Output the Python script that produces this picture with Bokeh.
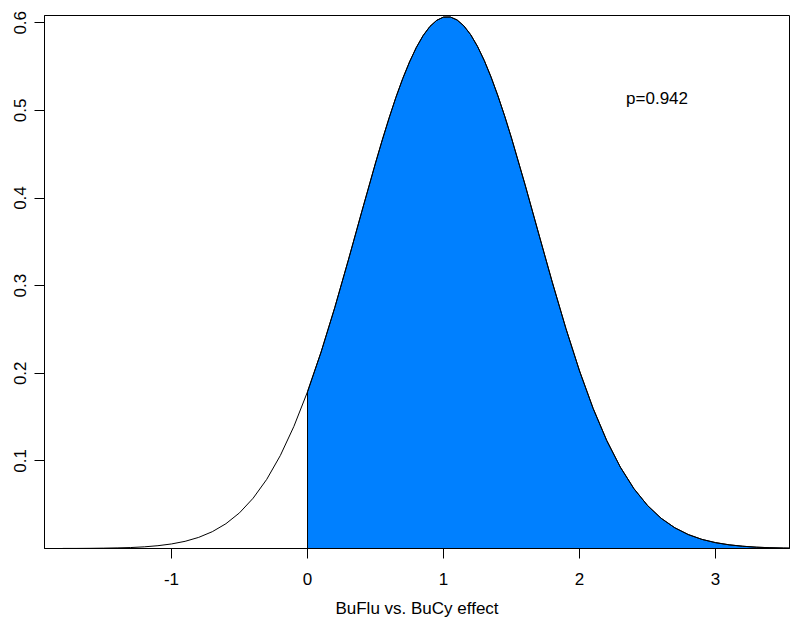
from bokeh.plotting import figure
from bokeh.models import FixedTicker, Range1d, Label
from bokeh.embed import file_html
from bokeh.resources import INLINE

# effect values (x) and their posterior density
effect = [-1.8, -1.7, -1.6, -1.5, -1.4, -1.3, -1.2, -1.1, -1.0, -0.9,
          -0.8, -0.7, -0.6, -0.5, -0.4, -0.3, -0.2, -0.1, 0.0, 0.1,
          0.2, 0.3, 0.4, 0.5, 0.55, 0.6, 0.65, 0.7, 0.75, 0.8,
          0.85, 0.9, 0.95, 1.0, 1.05, 1.1, 1.15, 1.2, 1.25, 1.3,
          1.35, 1.4, 1.45, 1.5, 1.6, 1.7, 1.8, 1.9, 2.0, 2.1,
          2.2, 2.3, 2.4, 2.5, 2.6, 2.7, 2.8, 2.9, 3.0, 3.1,
          3.2, 3.3, 3.4, 3.5, 3.6]
density = [0.0001, 0.0001, 0.0002, 0.0004, 0.0007, 0.0011, 0.0019, 0.0032, 0.0052, 0.0082,
           0.0127, 0.0192, 0.0283, 0.0407, 0.0574, 0.0789, 0.1061, 0.1394, 0.1789, 0.2243,
           0.2748, 0.3291, 0.3850, 0.4400, 0.4664, 0.4914, 0.5149, 0.5363, 0.5553, 0.5718,
           0.5854, 0.5958, 0.6028, 0.6065, 0.6066, 0.6032, 0.5964, 0.5863, 0.5730, 0.5568,
           0.5379, 0.5166, 0.4934, 0.4684, 0.4150, 0.3592, 0.3038, 0.2511, 0.2027, 0.1599,
           0.1233, 0.0929, 0.0683, 0.0491, 0.0345, 0.0237, 0.0159, 0.0104, 0.0067, 0.0042,
           0.0026, 0.0015, 0.0009, 0.0005, 0.0003]

x_ticks = [-1, 0, 1, 2, 3]
x_tick_labels = ["-1", "0", "1", "2", "3"]
y_ticks = [0.1, 0.2, 0.3, 0.4, 0.5, 0.6]
y_tick_labels = ["0.1", "0.2", "0.3", "0.4", "0.5", "0.6"]
p_label = "p=0.942"
x_title = "BuFlu vs. BuCy effect"

FONT = "Liberation Sans"

p = figure(frame_width=745, frame_height=533,
           min_border_left=44, min_border_right=3, min_border_top=15, min_border_bottom=70,
           x_range=Range1d(-1.934, 3.544), y_range=Range1d(0, 0.6083),
           output_backend="svg", toolbar_location=None, tools="")

# shaded region x >= 0
sx = [x for x in effect if x >= 0]
sy = [d for x, d in zip(effect, density) if x >= 0]
poly_x = [0.0] + sx + [sx[-1]]
poly_y = [0.0] + sy + [0.0]
p.patch(poly_x, poly_y, fill_color="#0080FF", line_color="black", line_width=1)

p.line(effect, density, line_color="black", line_width=1)

p.add_layout(Label(x=2.57, y=0.514, text=p_label, text_align="center",
                   text_baseline="middle", text_font=FONT, text_font_size="17px",
                   text_color="black"))

p.xgrid.visible = False
p.ygrid.visible = False
p.outline_line_color = "black"
p.outline_line_width = 1
p.background_fill_color = "white"
p.border_fill_color = "white"

xa = p.xaxis[0]
xa.ticker = FixedTicker(ticks=x_ticks)
xa.major_label_overrides = {t: l for t, l in zip(x_ticks, x_tick_labels)}
xa.minor_tick_line_color = None
xa.major_tick_in = 0
xa.major_tick_out = 10
xa.major_label_standoff = 14
xa.axis_label = x_title
xa.axis_label_standoff = 11
xa.axis_label_text_font_style = "normal"
xa.axis_label_text_font = FONT
xa.axis_label_text_font_size = "17px"
xa.axis_label_text_color = "black"
xa.major_label_text_font = FONT
xa.major_label_text_font_size = "17px"
xa.major_label_text_color = "black"
xa.axis_line_color = "black"
xa.major_tick_line_color = "black"

ya = p.yaxis[0]
ya.ticker = FixedTicker(ticks=y_ticks)
ya.major_label_overrides = {t: l for t, l in zip(y_ticks, y_tick_labels)}
ya.minor_tick_line_color = None
ya.major_tick_in = 0
ya.major_tick_out = 10
ya.major_label_standoff = 8
ya.major_label_orientation = "vertical"
ya.major_label_text_font = FONT
ya.major_label_text_font_size = "17px"
ya.major_label_text_color = "black"
ya.axis_line_color = "black"
ya.major_tick_line_color = "black"

open("out.html", "w").write(file_html(p, INLINE))
